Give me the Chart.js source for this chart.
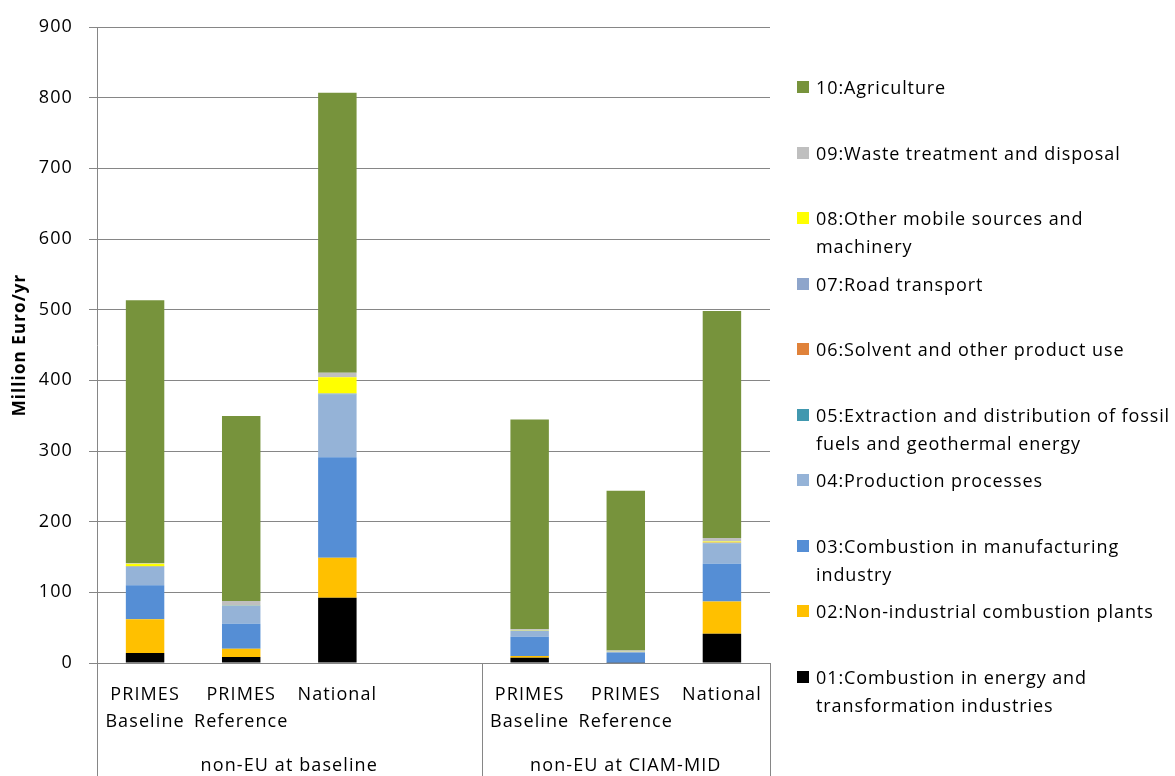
<!DOCTYPE html>
<html>
<head>
<meta charset="utf-8">
<script src="https://cdn.jsdelivr.net/npm/chart.js@4"></script>
<style>
  body { margin: 0; background: #fff; overflow: hidden; }
  #wrap { position: relative; width: 1175px; height: 776px; }
  #legend { position: absolute; left: 797px; top: 0; font-family: 'Open Sans', sans-serif; font-size: 18px; letter-spacing: 0.9px; color: #000; }
  .item { position: absolute; left: 0; width: 380px; }
  .sw { position: absolute; left: 0; top: 8px; width: 12px; height: 12px; }
  .txt { position: absolute; left: 19px; top: 0; width: 361px; line-height: 28px; }
</style>
</head>
<body>
<div id="wrap">
  <canvas id="bar-chart" width="1175" height="776"></canvas>
  <div id="legend"></div>
</div>
<script>
// categories (4th slot is the empty gap that belongs to the first group)
const categories = [
    ['PRIMES', 'Baseline'],
    ['PRIMES', 'Reference'],
    'National',
    '',
    ['PRIMES', 'Baseline'],
    ['PRIMES', 'Reference'],
    'National'
];
const groups = ['non-EU at baseline', 'non-EU at CIAM-MID'];
const groupSizes = [4, 3];

const yTicks = [0, 100, 200, 300, 400, 500, 600, 700, 800, 900];

const seriesNames = [
    '01:Combustion in energy and transformation industries',
    '02:Non-industrial combustion plants',
    '03:Combustion in manufacturing industry',
    '04:Production processes',
    '05:Extraction and distribution of fossil fuels and geothermal energy',
    '06:Solvent and other product use',
    '07:Road transport',
    '08:Other mobile sources and machinery',
    '09:Waste treatment and disposal',
    '10:Agriculture'
];
const seriesColors = [
    '#000000', '#FFC000', '#558ED5', '#95B3D7', '#4198AF',
    '#E0823A', '#8EA5CB', '#FFFF00', '#BFBFBF', '#77933C'
];

// Million Euro/yr
const s01 = [14, 8.5, 92.5, null, 7.5, 0.3, 41.5];
const s02 = [48, 11.5, 56.5, null, 2.5, 0.2, 45.5];
const s03 = [48, 35.5, 142, null, 27, 13.5, 53.5];
const s04 = [26, 25.5, 89, null, 8.5, 1.5, 29];
const s05 = [0.3, 0.2, 0.5, null, 0.2, 0.1, 0.3];
const s06 = [0.2, 0.1, 0.3, null, 0.1, 0.1, 0.2];
const s07 = [0.5, 0.3, 0.5, null, 0.3, 0.2, 0.5];
const s08 = [3.5, 0.5, 23, null, 0.5, 0.2, 1.5];
const s09 = [1, 5.5, 6.5, null, 1, 1.5, 5];
const s10 = [372, 262, 396, null, 297, 226, 321];
const seriesValues = [s01, s02, s03, s04, s05, s06, s07, s08, s09, s10];

Chart.defaults.font.family = "'Open Sans', sans-serif";
Chart.defaults.font.size = 18;
Chart.defaults.color = '#000';

const gridColor = '#868686';

// slightly wider text, like the original
const spacingPlugin = {
    id: 'letterSpacing',
    beforeInit(chart) { chart.ctx.letterSpacing = '1.1px'; },
    beforeUpdate(chart) { chart.ctx.letterSpacing = '1.1px'; },
    beforeDraw(chart) { chart.ctx.letterSpacing = '1.1px'; }
};

// group labels and the separator lines under the category axis
const groupPlugin = {
    id: 'groupLabels',
    afterDraw(chart) {
        const ctx = chart.ctx;
        const x = chart.scales.x;
        const area = chart.chartArea;
        const step = (x.right - x.left) / categories.length;
        ctx.save();
        ctx.strokeStyle = gridColor;
        ctx.lineWidth = 1;
        ctx.fillStyle = '#000';
        ctx.font = "18px 'Open Sans', sans-serif";
        ctx.letterSpacing = '1.1px';
        ctx.textAlign = 'center';
        ctx.textBaseline = 'middle';
        let start = 0;
        const edges = [0];
        groupSizes.forEach(function (n, i) {
            const x0 = x.left + start * step;
            const x1 = x.left + (start + n) * step;
            ctx.fillText(groups[i], (x0 + x1) / 2, 766);
            start += n;
            edges.push(start);
        });
        edges.forEach(function (e) {
            const px = Math.round(x.left + e * step) + 0.5;
            ctx.beginPath();
            ctx.moveTo(px, area.bottom);
            ctx.lineTo(px, chart.height);
            ctx.stroke();
        });
        ctx.restore();
    }
};

new Chart(document.getElementById('bar-chart'), {
    type: 'bar',
    data: {
        labels: categories,
        datasets: seriesNames.map(function (name, i) {
            return {
                label: name,
                data: seriesValues[i],
                backgroundColor: seriesColors[i],
                borderWidth: 0,
                categoryPercentage: 1,
                barPercentage: 0.4
            };
        })
    },
    options: {
        responsive: false,
        animation: false,
        layout: {
            padding: { top: 27, right: 405, left: 0, bottom: 0 }
        },
        plugins: {
            legend: { display: false },
            tooltip: { enabled: false }
        },
        scales: {
            x: {
                stacked: true,
                grid: { display: false, drawTicks: false, tickLength: 0 },
                border: { display: true, color: gridColor },
                ticks: {
                    padding: 18.5,
                    font: { size: 18, lineHeight: 1.5 },
                    maxRotation: 0,
                    autoSkip: false
                },
                afterFit: function (scale) { scale.height = 113; }
            },
            y: {
                stacked: true,
                min: 0,
                max: 900,
                afterBuildTicks: function (scale) {
                    scale.ticks = yTicks.map(function (v) { return { value: v }; });
                },
                grid: { color: gridColor, tickLength: 8 },
                border: { color: gridColor },
                ticks: { padding: 16, font: { size: 18 } },
                title: {
                    display: true,
                    text: 'Million Euro/yr',
                    font: { size: 17, weight: 'bold' },
                    padding: { top: 10, bottom: 0 }
                },
                afterFit: function (scale) { scale.width = 97; }
            }
        }
    },
    plugins: [spacingPlugin, groupPlugin]
});

// legend, top item = last series
const legendEl = document.getElementById('legend');
for (let k = 0; k < seriesNames.length; k++) {
    const i = seriesNames.length - 1 - k;
    const item = document.createElement('div');
    item.className = 'item';
    item.style.top = (73 + k * 65.5) + 'px';
    const sw = document.createElement('div');
    sw.className = 'sw';
    sw.style.background = seriesColors[i];
    const txt = document.createElement('div');
    txt.className = 'txt';
    txt.textContent = seriesNames[i];
    item.appendChild(sw);
    item.appendChild(txt);
    legendEl.appendChild(item);
}
</script>
</body>
</html>
